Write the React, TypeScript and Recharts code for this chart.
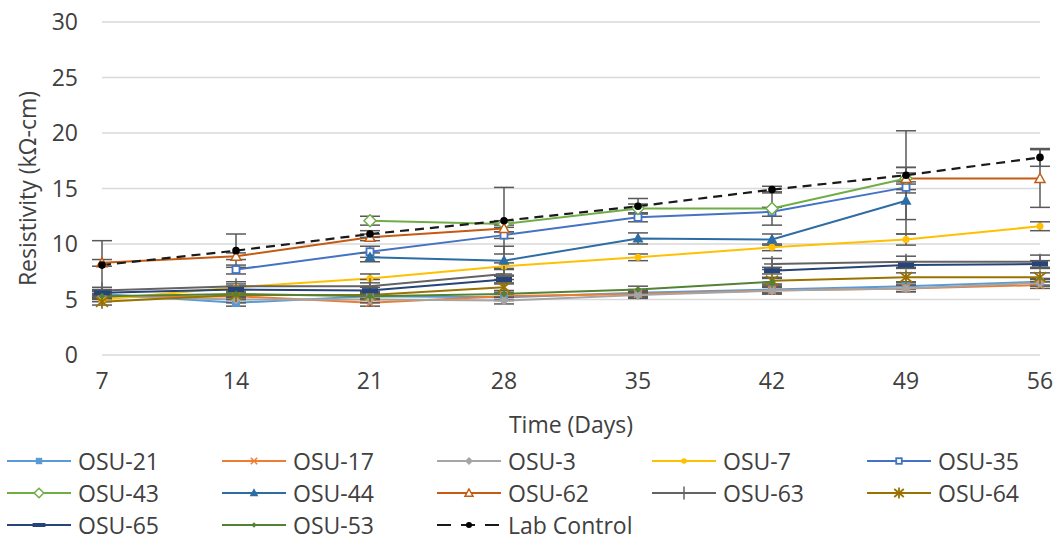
import React from 'react';
import { LineChart, Line, XAxis, YAxis, CartesianGrid, ErrorBar } from 'recharts';

const days = [7, 14, 21, 28, 35, 42, 49, 56];
const yTicks = [0, 5, 10, 15, 20, 25, 30];

const osu21 = [5.5, 4.7, 5.3, 5.2, 5.6, 5.9, 6.2, 6.6];
const osu17 = [5.2, 5.3, 4.7, 5.3, 5.5, 5.8, 6.0, 6.3];
const osu3 = [5.3, 5.0, 5.0, 4.9, 5.4, 5.8, 6.0, 6.5];
const osu7 = [5.0, 6.1, 6.9, 8.0, 8.8, 9.7, 10.4, 11.6];
const osu35 = [null, 7.7, 9.3, 10.8, 12.4, 12.9, 15.1, null];
const osu43 = [null, null, 12.1, 11.8, 13.2, 13.2, 15.9, null];
const osu44 = [null, null, 8.8, 8.5, 10.5, 10.4, 13.9, null];
const osu62 = [8.3, 8.9, 10.6, 11.4, null, null, 15.9, 15.9];
const osu63 = [5.8, 6.2, 6.2, 7.3, null, 8.2, 8.4, 8.4];
const osu64 = [4.8, 5.4, 5.4, 6.1, null, 6.7, 7.0, 7.0];
const osu65 = [5.6, 5.9, 5.8, 6.8, null, 7.6, 8.1, 8.2];
const osu53 = [5.3, 5.5, 5.3, 5.5, 5.9, 6.6, null, null];
const labControl = [8.1, 9.4, 10.9, 12.1, 13.4, 14.9, 16.2, 17.8];

const err21 = [0.2, 0.3, 0.3, 0.3, 0.3, 0.3, 0.3, 0.3];
const err17 = [0.2, 0.2, 0.3, 0.3, 0.3, 0.3, 0.3, 0.3];
const err3 = [0.2, 0.3, 0.3, 0.3, 0.3, 0.3, 0.3, 0.3];
const err7 = [0.2, 0.3, 0.4, 0.3, 0.3, 0.3, 0.5, 0.4];
const err35 = [null, 0.4, 0.5, 0.3, 0.4, 0.4, 0.5, null];
const err43 = [null, null, 0.4, 0.3, 0.4, 1.5, 0.5, null];
const err44 = [null, null, 0.4, 1.3, 0.5, 0.5, 3.0, null];
const err62 = [0.3, 0.3, 0.3, 0.3, null, null, 1.0, 2.6];
const err63 = [0.3, 0.4, 0.6, 0.5, null, 0.5, 0.5, 0.6];
const err64 = [0.3, 0.4, 0.3, 0.3, null, 0.3, 0.4, 0.4];
const err65 = [0.2, 0.3, 0.3, 0.3, null, 0.3, 0.3, 0.3];
const err53 = [0.2, 0.3, 0.3, 0.3, 0.3, 0.3, null, null];
const errLab = [2.2, 1.5, 0.3, 3.0, 0.7, 0.3, 4.0, 0.8];

type Shape =
  | 'square' | 'x' | 'diamond' | 'circle' | 'squareOpen' | 'diamondOpen'
  | 'triangle' | 'triangleOpen' | 'plus' | 'star' | 'dash' | 'dot' | 'labDot';

const series: { name: string; values: (number | null)[]; err: (number | null)[]; color: string; shape: Shape; dash?: string }[] = [
  { name: 'OSU-21', values: osu21, err: err21, color: '#5B9BD5', shape: 'square' },
  { name: 'OSU-17', values: osu17, err: err17, color: '#ED7D31', shape: 'x' },
  { name: 'OSU-3', values: osu3, err: err3, color: '#A5A5A5', shape: 'diamond' },
  { name: 'OSU-7', values: osu7, err: err7, color: '#FFC000', shape: 'circle' },
  { name: 'OSU-35', values: osu35, err: err35, color: '#4472C4', shape: 'squareOpen' },
  { name: 'OSU-43', values: osu43, err: err43, color: '#70AD47', shape: 'diamondOpen' },
  { name: 'OSU-44', values: osu44, err: err44, color: '#2E6DA4', shape: 'triangle' },
  { name: 'OSU-62', values: osu62, err: err62, color: '#C55A11', shape: 'triangleOpen' },
  { name: 'OSU-63', values: osu63, err: err63, color: '#636363', shape: 'plus' },
  { name: 'OSU-64', values: osu64, err: err64, color: '#997300', shape: 'star' },
  { name: 'OSU-65', values: osu65, err: err65, color: '#264478', shape: 'dash' },
  { name: 'OSU-53', values: osu53, err: err53, color: '#548235', shape: 'dot' },
  { name: 'Lab Control', values: labControl, err: errLab, color: '#1a1a1a', shape: 'labDot', dash: '9 6' },
];

const rows = days.map((d, i) => {
  const r: any = { day: d };
  series.forEach((s, k) => {
    r['v' + k] = s.values[i];
    r['e' + k] = s.values[i] == null ? null : s.err[i];
  });
  return r;
});

function Marker({ cx, cy, shape, color, small }: { cx: number; cy: number; shape: Shape; color: string; small?: boolean }) {
  const f = small ? 0.8 : 1;
  switch (shape) {
    case 'square':
      return <rect x={cx - 4 * f} y={cy - 4 * f} width={8 * f} height={8 * f} fill={color} />;
    case 'x':
      return (
        <g stroke={color} strokeWidth={1.5}>
          <line x1={cx - 4 * f} y1={cy - 4 * f} x2={cx + 4 * f} y2={cy + 4 * f} />
          <line x1={cx - 4 * f} y1={cy + 4 * f} x2={cx + 4 * f} y2={cy - 4 * f} />
        </g>
      );
    case 'diamond':
      return <polygon points={`${cx},${cy - 5 * f} ${cx + 5 * f},${cy} ${cx},${cy + 5 * f} ${cx - 5 * f},${cy}`} fill={color} />;
    case 'circle':
      return <circle cx={cx} cy={cy} r={3.5 * f} fill={color} />;
    case 'squareOpen':
      return <rect x={cx - 3.5 * f} y={cy - 3.5 * f} width={7 * f} height={7 * f} fill="#fff" stroke={color} strokeWidth={1.8} />;
    case 'diamondOpen':
      return <polygon points={`${cx},${cy - 6 * f} ${cx + 6 * f},${cy} ${cx},${cy + 6 * f} ${cx - 6 * f},${cy}`} fill="#fff" stroke={color} strokeWidth={1.5} />;
    case 'triangle':
      return <polygon points={`${cx},${cy - 6 * f} ${cx + 5.5 * f},${cy + 4 * f} ${cx - 5.5 * f},${cy + 4 * f}`} fill={color} />;
    case 'triangleOpen':
      return <polygon points={`${cx},${cy - 5 * f} ${cx + 5 * f},${cy + 4 * f} ${cx - 5 * f},${cy + 4 * f}`} fill="#fff" stroke={color} strokeWidth={1.5} />;
    case 'plus':
      return (
        <g stroke={color} strokeWidth={1.5}>
          <line x1={cx} y1={cy - 8 * f} x2={cx} y2={cy + 8 * f} />
          <line x1={cx - 8 * f} y1={cy} x2={cx + 8 * f} y2={cy} />
        </g>
      );
    case 'star':
      return (
        <g stroke={color} strokeWidth={1.8}>
          <line x1={cx} y1={cy - 7 * f} x2={cx} y2={cy + 7 * f} />
          <line x1={cx - 6 * f} y1={cy - 5 * f} x2={cx + 6 * f} y2={cy + 5 * f} />
          <line x1={cx - 6 * f} y1={cy + 5 * f} x2={cx + 6 * f} y2={cy - 5 * f} />
        </g>
      );
    case 'dash':
      return <rect x={cx - 8 * f} y={cy - 2.5 * f} width={16 * f} height={5 * f} fill={color} />;
    case 'dot':
      return <polygon points={`${cx},${cy - 3.5 * f} ${cx + 3.5 * f},${cy} ${cx},${cy + 3.5 * f} ${cx - 3.5 * f},${cy}`} fill={color} />;
    case 'labDot':
      return <circle cx={cx} cy={cy} r={3.8 * f} fill="#000" />;
  }
  return null;
}

const makeDot = (shape: Shape, color: string) => (props: any) => {
  const { cx, cy, index } = props;
  const k = `d${index}`;
  if (cx == null || cy == null || props.value == null || (Array.isArray(props.value) && props.value[1] == null)) {
    return <g key={k} />;
  }
  return (
    <g key={k}>
      <Marker cx={cx} cy={cy} shape={shape} color={color} />
    </g>
  );
};

const FONT = '"Open Sans", "Noto Sans", sans-serif';
const TEXT = '#404040';
const FS = 23;

function LegendItem({ s }: { s: (typeof series)[number] }) {
  return (
    <div style={{ display: 'flex', alignItems: 'center', width: 215, height: 32 }}>
      <svg width={66} height={20} style={{ flex: 'none' }}>
        <line x1={1} y1={10} x2={65} y2={10} stroke={s.color} strokeWidth={2} strokeDasharray={s.dash ? '14 10' : undefined} />
        <Marker cx={33} cy={10} shape={s.shape} color={s.color} small />
      </svg>
      <span style={{ marginLeft: 6, fontSize: FS, color: TEXT, fontFamily: FONT, whiteSpace: 'nowrap', lineHeight: '32px' }}>{s.name}</span>
    </div>
  );
}

export default function App() {
  const legendRows = [series.slice(0, 5), series.slice(5, 10), series.slice(10)];
  return (
    <div style={{ position: 'absolute', left: 0, top: 0, width: 1059, height: 542, background: '#fff', fontFamily: FONT }}>
      <LineChart width={1059} height={440} data={rows} margin={{ top: 22, right: 19, bottom: 0, left: 0 }}>
        <CartesianGrid vertical={false} stroke="#d9d9d9" strokeWidth={1.5} />
        <XAxis
          dataKey="day"
          type="number"
          domain={[7, 56]}
          ticks={days}
          axisLine={false}
          tickLine={false}
          tickSize={0}
          tickMargin={18}
          height={85}
          tick={{ fontSize: FS, fill: TEXT, fontFamily: FONT }}
          label={{
            content: (p: any) => {
              const vb = p.viewBox;
              return (
                <text x={vb.x + vb.width / 2} y={vb.y + 78} textAnchor="middle" fontSize={FS} fill={TEXT} fontFamily={FONT}>
                  Time (Days)
                </text>
              );
            },
          }}
        />
        <YAxis
          domain={[0, 30]}
          ticks={yTicks}
          width={102}
          axisLine={false}
          tickLine={false}
          tickSize={0}
          tickMargin={24}
          tick={{ fontSize: FS, fill: TEXT, fontFamily: FONT }}
          label={{
            content: (p: any) => {
              const vb = p.viewBox;
              const x = vb.x + 27;
              const y = vb.y + vb.height / 2;
              return (
                <text x={x} y={y} transform={`rotate(-90 ${x} ${y})`} textAnchor="middle" dominantBaseline="central" fontSize={FS} fill={TEXT} fontFamily={FONT}>
                  Resistivity (kΩ-cm)
                </text>
              );
            },
          }}
        />
        {series.map((s, k) => (
          <Line
            key={s.name}
            dataKey={'v' + k}
            name={s.name}
            stroke={s.color}
            strokeWidth={s.dash ? 2.2 : 2}
            strokeDasharray={s.dash}
            dot={makeDot(s.shape, s.color)}
            activeDot={false}
            isAnimationActive={false}
            connectNulls={false}
          >
            <ErrorBar dataKey={'e' + k} direction="y" width={10} stroke="#595959" strokeWidth={1.5} />
          </Line>
        ))}
      </LineChart>
      <div style={{ position: 'absolute', left: 6, top: 445 }}>
        {legendRows.map((r, i) => (
          <div key={i} style={{ display: 'flex' }}>
            {r.map((s) => (
              <LegendItem key={s.name} s={s} />
            ))}
          </div>
        ))}
      </div>
    </div>
  );
}
